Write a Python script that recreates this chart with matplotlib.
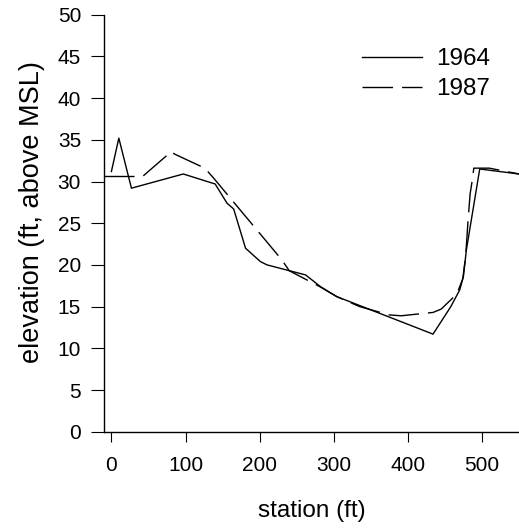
import matplotlib
matplotlib.use("Agg")
import matplotlib.pyplot as plt

plt.rcParams['font.family'] = ['Liberation Sans', 'DejaVu Sans']
plt.rcParams['font.size'] = 15
plt.rcParams['lines.scale_dashes'] = False

# 1964 survey
x1964 = [0, 10, 27, 97, 140, 156, 165, 181, 201, 210, 262, 282, 304, 434, 458, 470, 475, 479, 497, 550]
y1964 = [31.2, 35.2, 29.2, 30.9, 29.7, 27.4, 26.7, 22.0, 20.4, 20.0, 18.8, 17.4, 16.2, 11.7, 15.0, 17.0, 18.6, 21.8, 31.5, 30.9]

# 1987 survey
x1987 = [-10, 42, 81, 85, 97, 126, 138, 230, 240, 281, 304, 335, 375, 391, 434, 445, 466, 474, 478, 481, 484, 487, 489, 510, 550]
y1987 = [30.6, 30.6, 33.6, 33.3, 32.8, 31.6, 30.4, 20.6, 19.3, 17.4, 16.2, 15.0, 14.0, 13.9, 14.3, 14.7, 16.5, 18.3, 21.0, 25.0, 28.5, 30.2, 31.6, 31.6, 30.9]

xticks = [0, 100, 200, 300, 400, 500]
yticks = [0, 5, 10, 15, 20, 25, 30, 35, 40, 45, 50]

W, H = 519, 529
fig = plt.figure(figsize=(W / 100, H / 100), dpi=100)
ax = fig.add_axes([104 / W, 1 - 431.7 / H, (W - 104) / W, (431.7 - 14.7) / H])

ax.plot(x1964, y1964, color='black', lw=1.0, label='1964')
ax.plot(x1987, y1987, color='black', lw=1.0, dashes=(22, 6.5), label='1987')

ax.set_xlim(-10, 550)
ax.set_ylim(0, 50)
ax.set_xticks(xticks)
ax.set_yticks(yticks)
for s in ['top', 'right']:
    ax.spines[s].set_visible(False)
for s in ['left', 'bottom']:
    ax.spines[s].set_linewidth(1.0)
ax.tick_params(axis='y', direction='out', length=9.5, width=0.8, pad=7, labelsize=15)
ax.tick_params(axis='x', direction='out', length=7.2, width=0.8, pad=10, labelsize=15)

ax.set_xlabel('station (ft)', fontsize=17.5, labelpad=18)
ax.set_ylabel('elevation (ft, above MSL)', fontsize=19.5, labelpad=9, y=0.527)

leg = ax.legend(loc='upper left', bbox_to_anchor=(362 / W, 1 - 48 / H),
                bbox_transform=fig.transFigure, frameon=False, fontsize=17.5,
                handlelength=2.46, handletextpad=0.57, labelspacing=0.33,
                borderpad=0, borderaxespad=0)

fig.savefig('out.png', dpi=100)
